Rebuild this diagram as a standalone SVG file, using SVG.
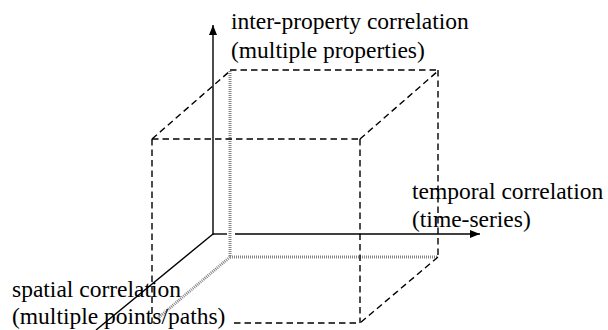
<svg xmlns="http://www.w3.org/2000/svg" width="608" height="330" viewBox="0 0 608 330">
<style>
.dash{stroke:#000;stroke-width:1.4;stroke-dasharray:6.5 4;fill:none}
.gray{stroke:#858585;stroke-width:3;stroke-dasharray:1 1;fill:none}
.axis{stroke:#000;stroke-width:1.4;fill:none}
.lbl{font-family:"Liberation Serif","Times New Roman",serif;font-size:23.5px;fill:#000}
</style>
<defs>
<marker id="ah" viewBox="0 0 10 8" refX="10" refY="4" markerWidth="10" markerHeight="8" markerUnits="userSpaceOnUse" orient="auto">
<path d="M0,0 L10,4 L0,8 Z" fill="#000"/>
</marker>
</defs>
<rect width="608" height="330" fill="#fff"/>
<g id="cube">
<line class="gray" x1="230" y1="71" x2="230" y2="257"/>
<line class="gray" x1="230" y1="257" x2="438" y2="257"/>
<line class="gray" x1="230" y1="257" x2="158" y2="318"/>
<line class="dash" x1="230" y1="70" x2="438" y2="70"/>
<line class="dash" x1="438" y1="70" x2="438" y2="257"/>
<line class="dash" x1="152" y1="139" x2="230" y2="71"/>
<line class="dash" x1="360" y1="139" x2="438" y2="71"/>
<line class="dash" x1="438" y1="257" x2="360" y2="323"/>
<line class="dash" x1="152" y1="139" x2="360" y2="139"/>
<line class="dash" x1="152" y1="139" x2="152" y2="323"/>
<line class="dash" x1="360" y1="139" x2="360" y2="323"/>
<line class="dash" x1="234" y1="323" x2="360" y2="323"/>
</g>
<g id="connectors">
<line class="axis" x1="213" y1="235" x2="213" y2="25" marker-end="url(#ah)"/>
<line class="axis" x1="213" y1="234" x2="227" y2="234"/>
<line class="axis" x1="235" y1="234" x2="480" y2="234" marker-end="url(#ah)"/>
<line class="axis" x1="213" y1="234" x2="96" y2="330"/>
</g>
<g id="node-inter">
<text class="lbl" x="231" y="29">inter-property correlation</text>
<text class="lbl" x="231" y="58">(multiple properties)</text>
</g>
<g id="node-temporal">
<text class="lbl" x="412" y="199">temporal correlation</text>
<text class="lbl" x="412" y="227">(time-series)</text>
</g>
<g id="node-spatial">
<text class="lbl" x="12" y="297">spatial correlation</text>
<text class="lbl" x="12" y="324">(multiple points/paths)</text>
</g>
</svg>
